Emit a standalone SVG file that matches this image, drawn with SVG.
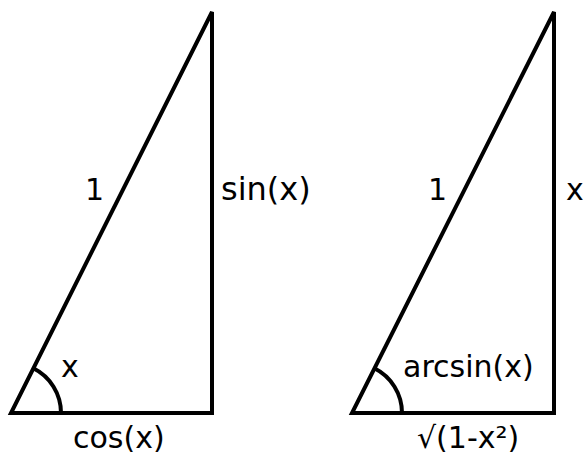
<svg xmlns="http://www.w3.org/2000/svg" width="585" height="457" viewBox="0 0 585 457">
<style>
.tri{fill:none;stroke:#000;stroke-width:4}
.arc{fill:none;stroke:#000;stroke-width:4}
text{font-family:"DejaVu Sans",sans-serif;font-size:30px;fill:#000}
.big{font-size:32px}
</style>
<rect width="585" height="457" fill="#fff"/>
<g id="left-triangle">
<polygon class="tri" points="11,413 212,413 212,12"/>
<path class="arc" d="M61,413 A50,50 0 0 0 33.4,368.3"/>
<text x="85" y="200">1</text>
<text class="big" x="221" y="200">sin(x)</text>
<text x="61" y="377">x</text>
<text x="73" y="448">cos(x)</text>
</g>
<g id="right-triangle">
<polygon class="tri" points="352,413 554,413 554,12"/>
<path class="arc" d="M402,413 A50,50 0 0 0 374.4,368.3"/>
<text x="428" y="200">1</text>
<text x="566" y="200">x</text>
<text x="403" y="377">arcsin(x)</text>
<text x="417" y="448">√(1-x²)</text>
</g>
</svg>
